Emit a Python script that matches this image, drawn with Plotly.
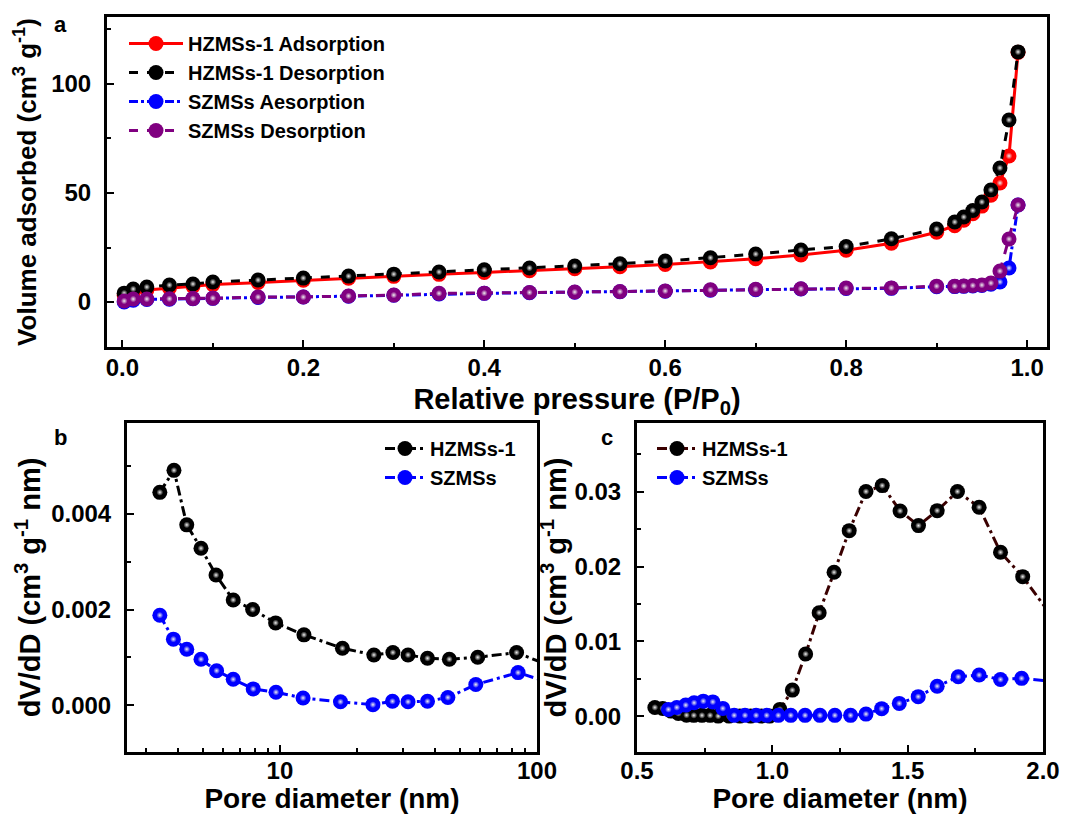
import plotly.graph_objects as go

# ---------------- data: panel a (isotherms) ----------------
p_rel = [0.002, 0.012, 0.027, 0.052, 0.078, 0.1, 0.15, 0.2, 0.25, 0.3, 0.35, 0.4, 0.45,
         0.5, 0.55, 0.6, 0.65, 0.7, 0.75, 0.8, 0.85, 0.9, 0.92, 0.93, 0.94, 0.95, 0.96,
         0.97, 0.98, 0.99]
hz_ads = [3.0, 4.5, 5.5, 6.5, 7.2, 8.0, 9.0, 10.0, 10.9, 11.8, 12.7, 13.6, 14.4,
          15.3, 16.2, 17.2, 18.4, 19.9, 21.6, 23.8, 27.0, 32.0, 35.0, 37.5, 40.5, 44.0, 49.0,
          54.6, 67.0, 114.5]
hz_des = [4.1, 6.0, 6.9, 7.8, 8.3, 9.2, 10.1, 11.0, 11.9, 12.8, 13.8, 14.8, 15.6,
          16.5, 17.6, 18.8, 20.3, 22.0, 23.9, 25.5, 29.0, 33.5, 36.7, 39.0, 42.0, 45.9, 51.4,
          61.5, 83.5, 114.7]
sz_ads = [0.0, 0.8, 1.2, 1.3, 1.5, 1.7, 2.1, 2.3, 2.7, 3.1, 3.7, 4.0, 4.3,
          4.5, 4.7, 5.0, 5.4, 5.7, 6.0, 6.2, 6.3, 7.0, 7.1, 7.2, 7.4, 7.6, 8.2,
          9.2, 15.6, 44.5]
sz_des = [0.5, 1.4, 1.4, 1.5, 1.6, 1.8, 2.3, 2.3, 2.8, 3.2, 4.0, 4.1, 4.4,
          4.6, 4.8, 5.1, 5.6, 5.9, 6.1, 6.4, 6.5, 7.3, 7.3, 7.4, 7.6, 7.8, 8.7,
          14.2, 28.9, 44.5]

# ---------------- data: panel b (mesopore PSD, log x) ----------------
b_hz_d = [3.41, 3.87, 4.34, 4.93, 5.64, 6.58, 7.83, 9.62, 12.4, 17.5, 23.2, 27.5, 31.5,
          37.5, 45.6, 58.8, 83.3, 115.0]
b_hz_v = [0.00445, 0.00491, 0.00377, 0.00328, 0.00272, 0.00220, 0.00200, 0.00172, 0.00147,
          0.00119, 0.00105, 0.00110, 0.00105, 0.00098, 0.00096, 0.00100, 0.00110, 0.00080]
b_sz_d = [3.41, 3.85, 4.34, 4.93, 5.67, 6.58, 7.87, 9.65, 12.3, 17.2, 23.0, 27.4, 31.5,
          37.5, 45.0, 57.8, 84.4, 115.0]
b_sz_v = [0.00188, 0.00138, 0.00117, 0.00096, 0.00072, 0.00054, 0.00034, 0.00027, 0.00015,
          0.00007, 0.00001, 0.00008, 0.00007, 0.00008, 0.00016, 0.00043, 0.00068, 0.00045]

# ---------------- data: panel c (micropore PSD) ----------------
c_hz_d = [0.566, 0.595, 0.626, 0.653, 0.683, 0.71, 0.74, 0.77, 0.80, 0.84, 0.88, 0.92,
          0.96, 0.99, 1.028, 1.074, 1.123, 1.173, 1.228, 1.284, 1.346, 1.406, 1.472,
          1.540, 1.609, 1.684, 1.764, 1.843, 1.925, 2.05]
c_hz_v = [0.00116, 0.00103, 0.00067, 0.00036, 0.00013, 0.0001, 0.0001, 0.0001, 0.0, 0.0,
          0.0, 0.0, 0.0, 0.0, 0.0009, 0.00348, 0.0083, 0.01383, 0.01923, 0.0248, 0.03003,
          0.03083, 0.02744, 0.02548, 0.02748, 0.03003, 0.02794, 0.02191, 0.01865, 0.0125]
c_sz_d = [0.616, 0.647, 0.680, 0.711, 0.745, 0.780, 0.817, 0.859, 0.899, 0.940, 0.979,
          1.022, 1.068, 1.121, 1.176, 1.231, 1.289, 1.346, 1.404, 1.469, 1.539, 1.609,
          1.687, 1.764, 1.843, 1.921, 2.05]
c_sz_v = [0.0009, 0.00116, 0.00147, 0.00178, 0.0020, 0.0019, 0.00103, 0.0001, 0.0001,
          0.0001, 0.0001, 0.0001, 0.0001, 0.0001, 0.0001, 0.0001, 0.0001, 0.00027, 0.0010,
          0.0017, 0.0026, 0.0040, 0.00526, 0.00549, 0.0049, 0.00505, 0.0046]

FONT = "Liberation Sans, Arial, sans-serif"
RED, BLACK, BLUE, PURPLE, MAROON = "#ff0000", "#000000", "#0000ff", "#800080", "#3a0000"
DASHDOT = "10px,4px,3px,4px"

fig = go.Figure()


def add_series(x, y, name, color, lcolor, dash, xa, ya, legend, msize=15, lwidth=3):
    fig.add_trace(go.Scatter(
        x=x, y=y, name=name, mode="lines+markers", xaxis=xa, yaxis=ya, legend=legend,
        line=dict(color=lcolor, width=lwidth, dash=dash),
        marker=dict(size=msize, color=color, line=dict(width=0)),
    ))
    # specular highlight of the shaded balls
    fig.add_trace(go.Scatter(
        x=x, y=y, mode="markers", xaxis=xa, yaxis=ya, showlegend=False, hoverinfo="skip",
        marker=dict(size=msize * 0.45, color=color, line=dict(width=0),
                    gradient=dict(type="radial", color="#eeeeee")),
    ))


# panel a
add_series(p_rel, hz_ads, "HZMSs-1 Adsorption", RED, RED, "solid", "x", "y", "legend")
add_series(p_rel, hz_des, "HZMSs-1 Desorption", BLACK, BLACK, "dash", "x", "y", "legend")
add_series(p_rel, sz_ads, "SZMSs Aesorption", BLUE, BLUE, "dashdot", "x", "y", "legend")
add_series(p_rel, sz_des, "SZMSs Desorption", PURPLE, PURPLE, "dash", "x", "y", "legend")
# panel b
add_series(b_hz_d, b_hz_v, "HZMSs-1", BLACK, BLACK, DASHDOT, "x2", "y2", "legend2")
add_series(b_sz_d, b_sz_v, "SZMSs", BLUE, BLUE, DASHDOT, "x2", "y2", "legend2")
# panel c
add_series(c_hz_d, c_hz_v, "HZMSs-1", BLACK, MAROON, DASHDOT, "x3", "y3", "legend3")
add_series(c_sz_d, c_sz_v, "SZMSs", BLUE, BLUE, DASHDOT, "x3", "y3", "legend3")

tickfont = dict(family=FONT, size=24, color="black", weight="bold")


def tfont(size):
    return dict(family=FONT, size=size, color="black", weight="bold")


axis_common = dict(
    showline=True, linewidth=3, linecolor="black", mirror=True, automargin=False,
    ticks="inside", ticklen=7, tickwidth=2, tickcolor="black",
    showgrid=False, zeroline=False, tickfont=tickfont,
)
minor_common = dict(ticks="inside", ticklen=4, tickwidth=2, tickcolor="black")

W, H = 1067, 814


def dom_x(l, r):
    return [l / W, r / W]


def dom_y(t, b):
    return [1 - b / H, 1 - t / H]


legfont = dict(family=FONT, size=20, weight="bold", color="black")
labfont = dict(family=FONT, size=22, weight="bold", color="black")

fig.update_layout(
    width=W, height=H, margin=dict(l=0, r=0, t=0, b=0),
    paper_bgcolor="white", plot_bgcolor="white",
    font=dict(family=FONT, color="black"),
    xaxis=dict(axis_common, domain=dom_x(107, 1047), anchor="y", range=[-0.017, 1.022],
               dtick=0.2, tickformat=".1f", ticklabelstandoff=-3,
               minor=dict(minor_common, dtick=0.1),
               title=dict(text="Relative pressure (P/P<sub>0</sub>)", font=tfont(29), standoff=9)),
    yaxis=dict(axis_common, domain=dom_y(17, 347), anchor="x", range=[-20.6, 130.7],
               dtick=50, ticklabelstandoff=8,
               minor=dict(minor_common, dtick=25),
               title=dict(text="Volume adsorbed (cm<sup>3</sup> g<sup>-1</sup>)", font=tfont(26), standoff=8)),
    xaxis2=dict(axis_common, domain=dom_x(127, 537), anchor="y2", type="log",
                range=[0.405, 2.0], tickvals=[10, 100], ticktext=["10", "100"],
                ticklabelstandoff=-5,
                minor=dict(minor_common, tickvals=[3, 4, 5, 6, 7, 8, 9, 20, 30, 40, 50, 60, 70, 80, 90]),
                title=dict(text="Pore diameter (nm)", font=tfont(28), standoff=6)),
    yaxis2=dict(axis_common, domain=dom_y(423, 752), anchor="x2", range=[-0.00098, 0.0059],
                dtick=0.002, tickformat=".3f", ticklabelstandoff=8,
                minor=dict(minor_common, dtick=0.001),
                title=dict(text="dV/dD (cm<sup>3</sup> g<sup>-1</sup> nm)", font=tfont(29), standoff=2)),
    xaxis3=dict(axis_common, domain=dom_x(637, 1043), anchor="y3", range=[0.5, 2.0],
                dtick=0.5, tickformat=".1f", ticklabelstandoff=-5,
                minor=dict(minor_common, dtick=0.25),
                title=dict(text="Pore diameter (nm)", font=tfont(28), standoff=6)),
    yaxis3=dict(axis_common, domain=dom_y(423, 752), anchor="x3", range=[-0.0048, 0.0392],
                dtick=0.01, tickformat=".2f", ticklabelstandoff=8,
                minor=dict(minor_common, dtick=0.005),
                title=dict(text="dV/dD (cm<sup>3</sup> g<sup>-1</sup> nm)", font=tfont(29), standoff=0)),
    legend=dict(x=124 / W, y=1 - 24 / H, xanchor="left", yanchor="top",
                bgcolor="rgba(0,0,0,0)", font=legfont, tracegroupgap=0, itemwidth=54),
    legend2=dict(x=380 / W, y=1 - 429 / H, xanchor="left", yanchor="top",
                 bgcolor="rgba(0,0,0,0)", font=legfont, tracegroupgap=0, itemwidth=40),
    legend3=dict(x=652 / W, y=1 - 429 / H, xanchor="left", yanchor="top",
                 bgcolor="rgba(0,0,0,0)", font=legfont, tracegroupgap=0, itemwidth=40),
    annotations=[
        dict(text="a", x=60 / W, y=1 - 25 / H, xref="paper", yref="paper", showarrow=False,
             xanchor="center", yanchor="middle", font=labfont),
        dict(text="b", x=60 / W, y=1 - 437 / H, xref="paper", yref="paper", showarrow=False,
             xanchor="center", yanchor="middle", font=labfont),
        dict(text="c", x=607 / W, y=1 - 437 / H, xref="paper", yref="paper", showarrow=False,
             xanchor="center", yanchor="middle", font=labfont),
    ],
)

fig.write_html("out.html")
